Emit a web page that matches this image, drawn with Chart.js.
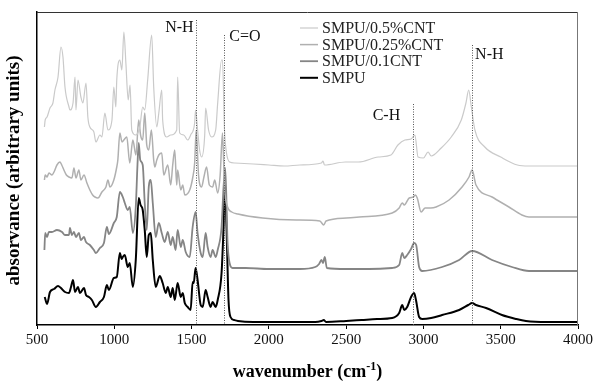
<!DOCTYPE html>
<html>
<head>
<meta charset="utf-8">
<script src="https://cdn.jsdelivr.net/npm/chart.js@4.4.1/dist/chart.umd.min.js"></script>
<style>
  html, body { margin: 0; padding: 0; background: #fff; }
  #wrap { width: 595px; height: 386px; }
</style>
</head>
<body>
<div id="wrap"><canvas id="ftirChart" width="595" height="386"></canvas></div>
<script>
// spectra: [wavenumber, absorbance (arbitrary, stacked)]
const smpu = [
  [550,28],[565,21],[584,33],[610,36],[636,39],[655,37],[681,33],[707,32],[720,38],[733,45],[746,33],
  [765,38],[778,32],[804,37],[817,30],[836,28],[855,25],[881,18],[907,23],[933,28],[952,40],[965,35],
  [997,47],[1016,48],[1036,72],[1048,66],[1055,68],[1068,70],[1087,58],[1100,62],[1120,38],[1139,65],
  [1158,127],[1170,120],[1184,115],[1197,95],[1210,68],[1223,90],[1236,92],[1249,65],[1268,38],
  [1294,49],[1313,42],[1333,32],[1346,38],[1365,28],[1378,37],[1391,25],[1410,42],[1430,28],[1443,32],
  [1456,22],[1475,18],[1494,15],[1507,43],[1514,42],[1526,57],[1539,45],[1559,20],[1572,18],[1591,35],
  [1604,28],[1623,18],[1636,23],[1656,18],[1669,25],[1694,52],[1707,98],[1716,140],[1726,98],[1739,25],
  [1752,8],[1775,5],[1800,4],[1900,3],[2000,3],[2100,3],[2200,3],[2300,3],[2340,4],[2355,5],[2370,3],
  [2500,4],[2600,5],[2700,6],[2798,7],[2843,12],[2863,20],[2876,15],[2895,18],[2920,28],[2940,32],
  [2953,24],[2972,8],[2992,6],[3050,7],[3121,10],[3231,15],[3290,20],[3315,22],[3340,20],[3405,17],
  [3508,10],[3600,6],[3663,4],[3800,3],[4000,3]
];
const smpu01 = [
  [548,75],[553,92],[565,88],[577,93],[597,93],[629,95],[662,93],[681,90],[707,90],[713,97],[726,90],
  [739,93],[752,88],[771,92],[784,85],[804,88],[817,83],[842,80],[868,75],[881,72],[907,77],[933,82],
  [952,98],[965,91],[997,102],[1016,108],[1036,133],[1055,128],[1068,122],[1087,115],[1100,118],
  [1120,92],[1139,118],[1150,160],[1158,182],[1168,165],[1184,160],[1197,122],[1210,95],[1223,138],
  [1236,145],[1249,122],[1268,88],[1288,102],[1307,92],[1326,83],[1346,93],[1365,80],[1378,88],
  [1397,75],[1410,95],[1430,78],[1443,85],[1462,73],[1488,68],[1507,98],[1526,113],[1539,92],[1559,72],
  [1572,68],[1591,92],[1604,78],[1623,68],[1636,75],[1656,68],[1669,75],[1694,98],[1707,138],[1718,157],
  [1733,82],[1746,62],[1765,57],[1850,57],[2000,56],[2200,56],[2300,58],[2325,61],[2340,65],[2350,62],
  [2362,68],[2375,57],[2500,56],[2650,56],[2798,57],[2843,60],[2863,72],[2876,67],[2895,70],[2920,76],
  [2940,82],[2953,80],[2972,58],[2992,54],[3121,58],[3231,65],[3315,74],[3444,65],[3573,58],[3683,54],
  [3800,54],[4000,54]
];
const smpu025 = [
  [548,145],[553,150],[565,148],[577,152],[597,150],[610,153],[629,160],[648,163],[660,160],[674,155],
  [690,150],[707,148],[726,147],[739,157],[752,147],[771,155],[784,145],[804,150],[823,142],[842,135],
  [860,130],[875,128],[894,127],[920,133],[946,138],[959,145],[972,138],[997,145],[1016,158],[1023,165],
  [1036,192],[1050,183],[1062,185],[1081,188],[1100,162],[1120,185],[1140,170],[1158,205],[1170,190],
  [1184,185],[1197,212],[1210,180],[1223,175],[1240,195],[1255,165],[1262,158],[1275,165],[1288,170],
  [1307,172],[1320,150],[1346,160],[1365,140],[1378,160],[1391,175],[1404,140],[1410,155],[1430,135],
  [1443,140],[1456,130],[1488,135],[1507,147],[1520,162],[1530,195],[1545,150],[1565,138],[1580,148],
  [1597,158],[1615,140],[1636,138],[1650,145],[1669,132],[1685,150],[1700,192],[1713,138],[1733,118],
  [1760,113],[1800,111],[1960,107],[2178,105],[2330,104],[2355,100],[2370,104],[2501,107],[2585,108],
  [2798,112],[2843,117],[2863,122],[2876,120],[2908,127],[2935,128],[2947,130],[2960,127],[2985,113],
  [3011,117],[3047,117],[3082,118],[3166,125],[3250,138],[3295,148],[3315,155],[3340,140],[3444,128],
  [3553,118],[3637,110],[3683,108],[3800,108],[4000,108]
];
const smpu05 = [
  [548,198],[553,205],[565,208],[584,217],[603,222],[616,235],[636,248],[655,278],[668,268],[681,238],
  [707,218],[713,215],[733,222],[746,248],[752,215],[765,245],[784,228],[797,222],[817,242],[829,208],
  [842,198],[868,193],[881,183],[907,190],[920,188],[939,212],[959,195],[985,205],[997,238],[1010,218],
  [1016,245],[1036,265],[1049,255],[1062,293],[1075,262],[1090,225],[1102,240],[1113,195],[1139,190],
  [1165,198],[1184,218],[1197,215],[1216,245],[1242,290],[1255,238],[1275,198],[1288,212],[1307,235],
  [1313,205],[1339,188],[1365,190],[1404,195],[1410,248],[1423,192],[1449,190],[1475,185],[1494,190],
  [1520,202],[1526,215],[1539,195],[1552,175],[1565,168],[1585,190],[1591,217],[1610,195],[1630,188],
  [1656,195],[1669,222],[1694,265],[1700,265],[1713,195],[1726,172],[1746,163],[1780,162],[1900,161],
  [2000,160],[2100,159],[2200,160],[2340,162],[2350,164],[2360,160],[2495,163],[2580,163],[2707,168],
  [2790,170],[2835,180],[2880,185],[2920,186],[2945,190],[2965,168],[3000,167],[3030,173],[3050,169],
  [3115,177],[3180,188],[3245,205],[3275,222],[3293,235],[3310,218],[3333,195],[3397,178],[3500,168],
  [3608,160],[3680,159],[3800,159],[4000,159]
];

const seriesLabels = ['SMPU/0.5%CNT', 'SMPU/0.25%CNT', 'SMPU/0.1CNT', 'SMPU'];
const seriesColors = ['#cacaca', '#b0b0b0', '#858585', '#000000'];
const seriesWidths = [1.2, 1.5, 1.8, 2];

// band markers: [wavenumber, top of dotted line (arbitrary units)]
const bandPositions = [[1526, 305], [1712, 290], [2934, 221], [3315, 280]];
const bandLabels = ['N-H', 'C=O', 'C-H', 'N-H'];

const xTickMin = 500, xTickMax = 4000, xTickStep = 500;

const serif = '"Liberation Serif", "DejaVu Serif", serif';
const allSeries = [smpu05, smpu025, smpu01, smpu];

const datasets = allSeries.map((s, i) => ({
  label: seriesLabels[i],
  data: s.map(p => ({ x: p[0], y: p[1] })),
  borderColor: seriesColors[i],
  borderWidth: seriesWidths[i],
  pointRadius: 0,
  fill: false,
  cubicInterpolationMode: 'monotone'
}));

const decorations = {
  id: 'decorations',
  afterDatasetsDraw(chart) {
    const ctx = chart.ctx;
    const xs = chart.scales.x, ys = chart.scales.y;
    const area = chart.chartArea;
    ctx.save();

    // box top + right
    ctx.lineWidth = 1;
    ctx.strokeStyle = '#333';
    ctx.beginPath();
    ctx.moveTo(area.left, area.top + 0.5);
    ctx.lineTo(area.right, area.top + 0.5);
    ctx.stroke();
    ctx.strokeStyle = '#777';
    ctx.beginPath();
    ctx.moveTo(area.right - 0.5, area.top);
    ctx.lineTo(area.right - 0.5, area.bottom);
    ctx.stroke();

    // dotted band lines
    ctx.strokeStyle = '#555';
    ctx.setLineDash([1, 1.5]);
    bandPositions.forEach(b => {
      const px = Math.round(xs.getPixelForValue(b[0])) + 0.5;
      ctx.beginPath();
      ctx.moveTo(px, ys.getPixelForValue(b[1]));
      ctx.lineTo(px, area.bottom);
      ctx.stroke();
    });
    ctx.setLineDash([]);

    // band labels
    ctx.fillStyle = '#111';
    ctx.font = '16px ' + serif;
    ctx.textBaseline = 'middle';
    const lab = (i, dx, dy, align) => {
      const b = bandPositions[i];
      ctx.textAlign = align;
      ctx.fillText(bandLabels[i], xs.getPixelForValue(b[0]) + dx, ys.getPixelForValue(b[1]) + dy);
    };
    lab(0, -2, 8, 'right');
    lab(1, 5, 2, 'left');
    lab(2, -13, 12, 'right');
    lab(3, 3, 10, 'left');

    // legend
    const legX = 300, legY = 28, rowH = 16.6;
    seriesLabels.forEach((t, i) => {
      const y = legY + i * rowH;
      ctx.strokeStyle = seriesColors[i];
      ctx.lineWidth = seriesWidths[i];
      ctx.beginPath();
      ctx.moveTo(legX, y);
      ctx.lineTo(legX + 18, y);
      ctx.stroke();
      ctx.fillStyle = '#222';
      ctx.textAlign = 'left';
      ctx.fillText(t, legX + 22, y + 1);
    });

    // axis titles
    ctx.fillStyle = '#000';
    ctx.textAlign = 'left';
    ctx.textBaseline = 'alphabetic';
    const main = 'wavenumber (cm';
    ctx.font = 'bold 18px ' + serif;
    const w1 = ctx.measureText(main).width;
    ctx.font = 'bold 12px ' + serif;
    const w2 = ctx.measureText('-1').width;
    ctx.font = 'bold 18px ' + serif;
    const w3 = ctx.measureText(')').width;
    const cx = (area.left + area.right) / 2;
    const x0 = cx - (w1 + w2 + w3) / 2;
    const base = 377;
    ctx.fillText(main, x0, base);
    ctx.font = 'bold 12px ' + serif;
    ctx.fillText('-1', x0 + w1, base - 7);
    ctx.font = 'bold 18px ' + serif;
    ctx.fillText(')', x0 + w1 + w2, base);

    ctx.translate(14, (area.top + area.bottom) / 2 + 2);
    ctx.rotate(-Math.PI / 2);
    ctx.textAlign = 'center';
    ctx.textBaseline = 'middle';
    ctx.font = 'bold 19px ' + serif;
    ctx.fillText('absorvance (arbitrary units)', 0, 0);
    ctx.restore();
  }
};

const ctx = document.getElementById('ftirChart').getContext('2d');
const ftirChart = new Chart(ctx, {
  type: 'line',
  data: { datasets: datasets },
  options: {
    responsive: false,
    animation: false,
    layout: { padding: { left: 0, right: 15, top: 12, bottom: 0 } },
    plugins: {
      legend: { display: false },
      tooltip: { enabled: false }
    },
    scales: {
      x: {
        type: 'linear',
        min: xTickMin,
        max: xTickMax,
        afterFit: s => { s.height = 61; },
        ticks: {
          stepSize: xTickStep,
          color: '#111',
          padding: 2,
          maxRotation: 0,
          font: { family: serif, size: 15 },
          callback: v => String(v)
        },
        grid: { drawOnChartArea: false, tickLength: 4, tickColor: '#000', color: '#000' },
        border: { color: '#000', width: 1.5 }
      },
      y: {
        min: 0,
        max: 313,
        afterFit: s => { s.width = 37; },
        ticks: { display: false },
        grid: { display: false },
        border: { color: '#000', width: 1.5 }
      }
    }
  },
  plugins: [decorations]
});
</script>
</body>
</html>
